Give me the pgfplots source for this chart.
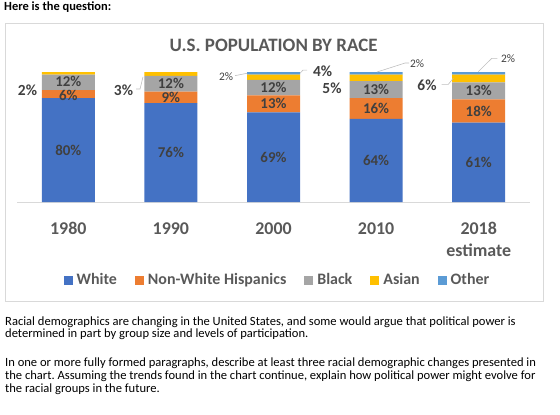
\documentclass[border=0pt]{standalone}
\usepackage{fontspec}
\setmainfont{Carlito}
\usepackage{pgfplots}
\pgfplotsset{compat=1.18}
\definecolor{cWhite}{HTML}{4472C4}
\definecolor{cHisp}{HTML}{ED7D31}
\definecolor{cBlack}{HTML}{A5A5A5}
\definecolor{cAsian}{HTML}{FFC000}
\definecolor{cOther}{HTML}{5B9BD5}
\definecolor{frame}{HTML}{D9D9D9}
\definecolor{txtA}{HTML}{595959}
\definecolor{txtB}{HTML}{404040}
\definecolor{leader}{HTML}{BFBFBF}
\pgfplotsset{
  common/.style={
    at={(17bp,-202bp)}, anchor=south west, scale only axis,
    width=513bp, height=130bp,
    xmin=-0.5, xmax=4.5, ymin=0, ymax=100, clip=false,
  },
}
\frenchspacing
\begin{document}
\frenchspacing
\begin{tikzpicture}
\useasboundingbox (0,0) rectangle (560bp,-415bp);
\node[anchor=base west, inner sep=0, font=\fontsize{12.5}{14}\selectfont\bfseries] at (4bp,-10bp) {Here is the question:};
\draw[draw=frame, line width=0.8bp] (5bp,-23bp) rectangle (543bp,-301bp);
\node[anchor=base, inner sep=0, font=\fontsize{19}{23}\selectfont\bfseries, text=txtA] at (273.5bp,-51.7bp) {U.S. POPULATION BY RACE};
\begin{axis}[common,
  ybar stacked, bar width=53bp,
  axis x line*=bottom, axis y line=none,
  x axis line style={draw=frame, line width=0.8bp, -},
  xtick={0,1,2,3,4},
  xticklabels={1980,1990,2000,2010,{2018\\estimate}},
  xticklabel style={align=center, text=txtA, font=\fontsize{18}{21.5}\selectfont\bfseries, anchor=north, yshift=-17bp},
  major tick length=0pt, ytick=\empty,
  legend columns=5,
  legend style={at={(0.5058,-0.6)}, anchor=center, draw=none, fill=none,
    font=\fontsize{16}{19}\selectfont\bfseries, text=txtA,
    nodes={inner sep=0pt},
    /tikz/every odd column/.append style={column sep=4bp},
    /tikz/every even column/.append style={column sep=18bp}},
  legend image code/.code={\fill[#1,draw=none] (0bp,-4.5bp) rectangle (9bp,4.5bp);},
]
\addplot+[fill=cWhite, draw=none] coordinates {(0,80) (1,76) (2,69) (3,64) (4,61)};
\addlegendentry{White}
\addplot+[fill=cHisp, draw=none] coordinates {(0,6) (1,9) (2,13) (3,16) (4,18)};
\addlegendentry{Non-White Hispanics}
\addplot+[fill=cBlack, draw=none] coordinates {(0,12) (1,12) (2,12) (3,13) (4,13)};
\addlegendentry{Black}
\addplot+[fill=cAsian, draw=none] coordinates {(0,2) (1,3) (2,4) (3,5) (4,6)};
\addlegendentry{Asian}
\addplot+[fill=cOther, draw=none] coordinates {(0,0) (1,0) (2,2) (3,2) (4,2)};
\addlegendentry{Other}
\end{axis}
\begin{axis}[common, hide axis,
  every node near coord/.append style={anchor=center, inner sep=0pt, text=txtB},
]
% inside labels
\addplot[draw=none, mark=none, point meta=explicit symbolic, nodes near coords={\pgfplotspointmeta\%},
  every node near coord/.append style={font=\fontsize{15}{18}\selectfont\bfseries}]
  coordinates {(0,40) [80] (0,82.1) [6] (0,93) [12]
               (1,38) [76] (1,80.5) [9] (1,91.2) [12]
               (2,34.5) [69] (2,75.5) [13] (2,88) [12]
               (3,32) [64] (3,72) [16] (3,86.5) [13]
               (4,30.5) [61] (4,70) [18] (4,85.5) [13]};
% outside large labels
\addplot[draw=none, mark=none, point meta=explicit symbolic, nodes near coords={\pgfplotspointmeta\%},
  every node near coord/.append style={font=\fontsize{15.5}{18}\selectfont\bfseries}]
  coordinates {(-0.398,86.2) [2] (0.538,86.2) [3] (2.478,100.5) [4] (2.570,87.7) [5] (3.496,90) [6]};
% outside small labels
\addplot[draw=none, mark=none, point meta=explicit symbolic, nodes near coords={\pgfplotspointmeta\%},
  every node near coord/.append style={font=\fontsize{11.5}{13}\selectfont}]
  coordinates {(1.537,96.4) [2] (3.399,106.5) [2] (4.286,110) [2]};
% leader lines
\addplot[leader, line width=0.6bp, mark=none] coordinates {(0.660,86.9) (0.699,86.9) (0.728,96.2)};
\addplot[leader, line width=0.6bp, mark=none] coordinates {(1.625,97.2) (1.742,99)};
\addplot[leader, line width=0.6bp, mark=none] coordinates {(2.258,99) (2.288,101.5) (2.327,101.5)};
\addplot[leader, line width=0.6bp, mark=none] coordinates {(3.009,100) (3.282,106.9) (3.321,106.9)};
\addplot[leader, line width=0.6bp, mark=none] coordinates {(3.639,90.5) (3.704,90.5) (3.752,95.2)};
\addplot[leader, line width=0.6bp, mark=none] coordinates {(3.996,100.2) (4.127,110.5) (4.181,110.5)};
\end{axis}
\begin{scope}[every node/.style={anchor=base west, inner sep=0, font=\fontsize{12.6}{13}\selectfont}]
\node at (5bp,-325bp) {Racial demographics are changing in the United States, and some would argue that political power is};
\node at (5bp,-337.5bp) {determined in part by group size and levels of participation.};
\node at (5bp,-366.5bp) {In one or more fully formed paragraphs, describe at least three racial demographic changes presented in};
\node at (5bp,-379.5bp) {the chart. Assuming the trends found in the chart continue, explain how political power might evolve for};
\node at (5bp,-392.5bp) {the racial groups in the future.};
\end{scope}
\end{tikzpicture}
\end{document}
